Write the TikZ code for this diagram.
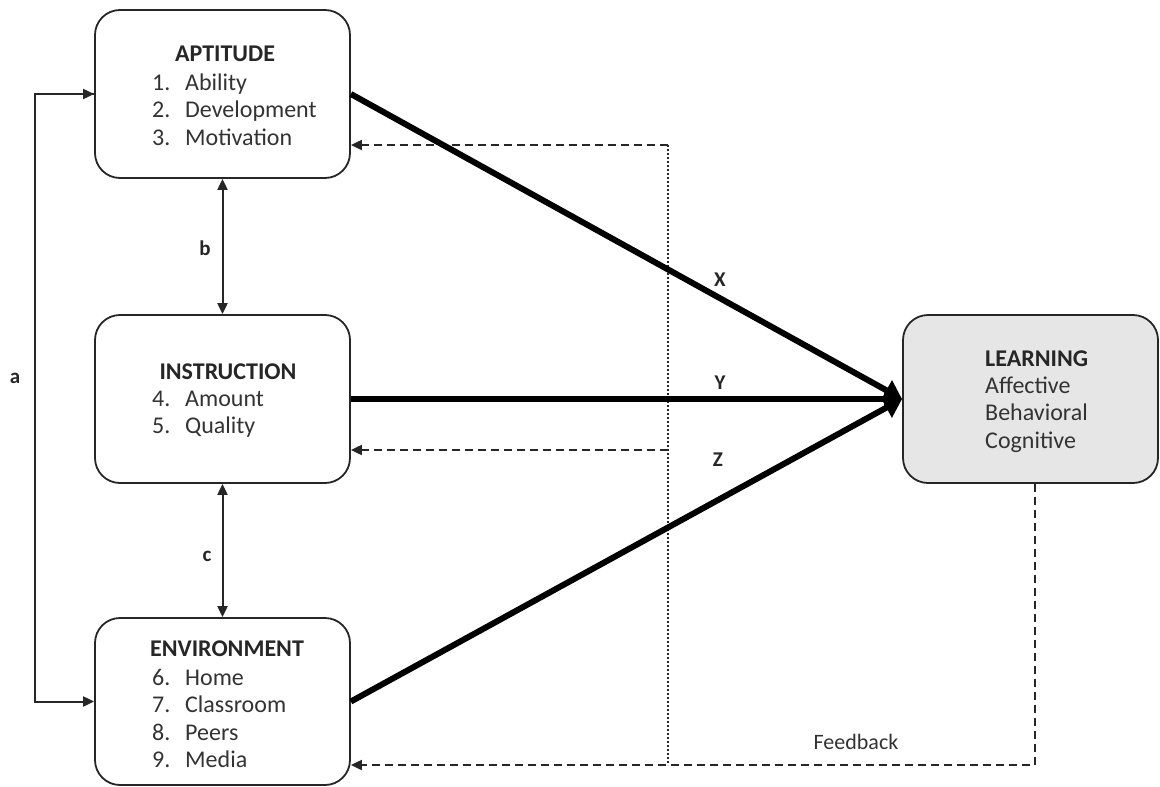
\documentclass[tikz,border=0pt]{standalone}
\usepackage{fontspec}
\setmainfont{Carlito}
\usetikzlibrary{arrows.meta}
\definecolor{ink}{HTML}{262626}
\definecolor{txt}{HTML}{333333}
\definecolor{lrnfill}{HTML}{E6E6E6}
\newcommand{\listline}[4]{%
  \node[itemtxt] (#1n) at (152,#2) {#3};
  \node[itemtxt] (#1t) at (185,#2) {#4};}
\begin{document}
\begin{tikzpicture}[x=1pt,y=-1pt,
  box/.style={draw=ink,line width=1.8pt,rounded corners=25pt,minimum width=255pt,minimum height=168pt,inner sep=0pt},
  titletxt/.style={font=\fontsize{24}{28}\selectfont\bfseries,text=ink,inner sep=0pt,text height=0.64em,text depth=0pt,yshift=-5pt},
  itemtxt/.style={font=\fontsize{24}{28}\selectfont,text=txt,inner sep=0pt,anchor=west,text height=0.64em,text depth=0pt,yshift=-5pt},
  lbl/.style={font=\fontsize{21}{24}\selectfont\bfseries,text=ink,inner sep=0pt},
  thinarr/.style={draw=ink,line width=2pt,-{Triangle[length=11pt,width=10pt]}},
  dblarr/.style={draw=ink,line width=2pt,{Triangle[length=11pt,width=10pt]}-{Triangle[length=11pt,width=10pt]}},
  thickarr/.style={draw=black,line width=6pt,-{Triangle[length=18pt,width=22pt]}},
  fbarr/.style={draw=ink,line width=2pt,dash pattern=on 8pt off 5pt,-{Triangle[length=11pt,width=10pt]}},
  dotln/.style={draw=ink,line width=1.7pt,dash pattern=on 2pt off 2pt}]
\useasboundingbox (0,0) rectangle (1160,787);
% boxes
\node[box] (apt) at (222.5,94) {};
\node[box] (ins) at (222.5,399) {};
\node[box,minimum height=167pt] (env) at (222.5,701.5) {};
\node[box,fill=lrnfill] (lrn) at (1030.5,399) {};
% texts
\node[titletxt] (aptT) at (225,53) {APTITUDE};
\listline{apta}{82}{1.}{Ability}
\listline{aptb}{109}{2.}{Development}
\listline{aptc}{137}{3.}{Motivation}
\node[titletxt] (insT) at (228,371) {INSTRUCTION};
\listline{insa}{398}{4.}{Amount}
\listline{insb}{425}{5.}{Quality}
\node[titletxt] (envT) at (227,648) {ENVIRONMENT};
\listline{enva}{677}{6.}{Home}
\listline{envb}{704}{7.}{Classroom}
\listline{envc}{732}{8.}{Peers}
\listline{envd}{759}{9.}{Media}
\node[titletxt,anchor=west] (lrnT) at (985,358) {LEARNING};
\node[itemtxt] (lrna) at (985,385) {Affective};
\node[itemtxt] (lrnb) at (985,412) {Behavioral};
\node[itemtxt] (lrnc) at (985,440) {Cognitive};
% feedback network
\coordinate (fbc) at (1035,765);
\coordinate (dvt) at (668,145);
\coordinate (dvm) at (668,450);
\coordinate (dvb) at (668,765);
\draw[dotln] (dvt) -- (dvb);
\draw[fbarr] ([xshift=4.5pt]lrn.south) -- (fbc) -- (env.east |- fbc);
\draw[fbarr] (dvt) -- (apt.east |- dvt);
\draw[fbarr] (dvm) -- (ins.east |- dvm);
\node[font=\fontsize{22}{26}\selectfont,text=txt,inner sep=0pt] (fbl) at (856,742) {Feedback};
% left connectors
\draw[thinarr] (apt.west) -- ++(-59,0) |- (env.west);
\draw[thinarr] (apt.west) ++(-59,0) -- (apt.west);
\draw[dblarr] (apt.south) -- (ins.north);
\draw[dblarr] (ins.south) -- (env.north);
\node[lbl] (la) at (15,378) {a};
\node[lbl] (lb) at (205,248) {b};
\node[lbl] (lc) at (207,556) {c};
% main paths
\draw[thickarr] (apt.east) -- (lrn.west);
\draw[thickarr] (ins.east) -- (lrn.west);
\draw[thickarr] (env.east) -- (lrn.west);
\node[lbl] (lx) at (720,280) {X};
\node[lbl] (ly) at (720,383) {Y};
\node[lbl] (lz) at (718,460) {Z};
\end{tikzpicture}
\end{document}
